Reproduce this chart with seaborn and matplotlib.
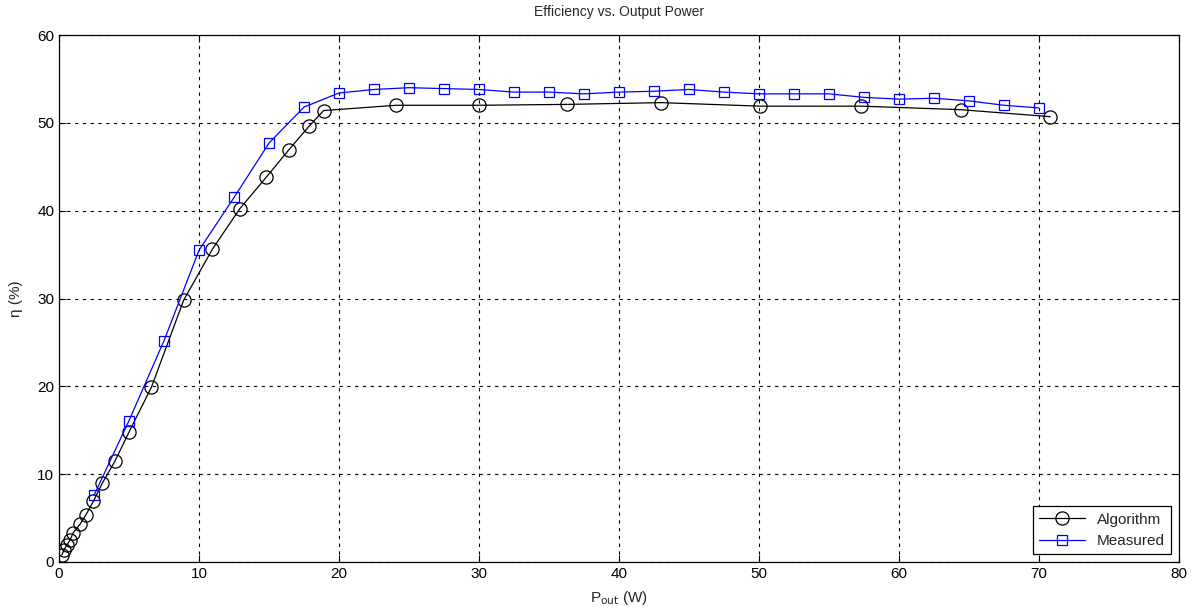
import matplotlib
matplotlib.use("Agg")
import matplotlib.pyplot as plt
import seaborn as sns
import pandas as pd

# data
algo_x = [0.2, 0.36, 0.55, 0.79, 1.0, 1.5, 1.93, 2.45, 3.1, 4.0, 5.0, 6.6, 8.9,
          10.95, 12.9, 14.8, 16.4, 17.85, 18.9, 24.1, 30.0, 36.3, 43.0, 50.1,
          57.3, 64.4, 70.8]
algo_y = [0.8, 1.4, 1.9, 2.5, 3.3, 4.3, 5.4, 6.9, 9.0, 11.5, 14.8, 19.9, 29.8,
          35.6, 40.2, 43.8, 46.9, 49.6, 51.4, 52.0, 52.0, 52.1, 52.3, 51.9,
          51.9, 51.5, 50.7]

meas_x = [2.5, 5, 7.5, 10, 12.5, 15, 17.5, 20, 22.5, 25, 27.5, 30, 32.5, 35,
          37.5, 40, 42.5, 45, 47.5, 50, 52.5, 55, 57.5, 60, 62.5, 65, 67.5, 70]
meas_y = [7.6, 16.1, 25.2, 35.5, 41.5, 47.7, 51.8, 53.4, 53.8, 54.0, 53.9,
          53.8, 53.5, 53.5, 53.3, 53.5, 53.6, 53.8, 53.5, 53.3, 53.3, 53.3,
          52.9, 52.7, 52.8, 52.5, 52.0, 51.7]

sns.set_style("white")
plt.rcParams['font.family'] = ['Liberation Sans', 'DejaVu Sans']

df_algo = pd.DataFrame({"x": algo_x, "y": algo_y})
df_meas = pd.DataFrame({"x": meas_x, "y": meas_y})

fig = plt.figure(figsize=(11.95, 6.12), dpi=100)
ax = fig.add_axes([0.0494, 0.0817, 0.9372, 0.8611])

sns.lineplot(data=df_algo, x="x", y="y", ax=ax, sort=False, color="black",
             marker="o", markersize=9.5, markerfacecolor="none",
             markeredgecolor="black", markeredgewidth=0.9, linewidth=0.9,
             label="Algorithm")
sns.lineplot(data=df_meas, x="x", y="y", ax=ax, sort=False, color="blue",
             marker="s", markersize=7.5, markerfacecolor="none",
             markeredgecolor="blue", markeredgewidth=0.9, linewidth=0.9,
             label="Measured")

ax.set_xlim(0, 80)
ax.set_ylim(0, 60)
ax.set_xticks(range(0, 81, 10))
ax.set_yticks(range(0, 61, 10))
ax.grid(True, color="black", linestyle=(0, (3, 4)), linewidth=0.8)
for s in ax.spines.values():
    s.set_color("black")
    s.set_linewidth(0.9)
ax.tick_params(direction="in", length=5, labelsize=11, colors="black",
               top=True, right=True, bottom=True, left=True)

ax.set_title("Efficiency vs. Output Power", fontsize=10, pad=14)
ax.set_xlabel(r"P$_{\mathrm{out}}$ (W)", fontsize=11, labelpad=6)
ax.set_ylabel("η (%)", fontsize=11, labelpad=10)

leg = ax.legend(loc="lower right", fontsize=11, fancybox=False, framealpha=1,
                edgecolor="black", handlelength=3)
leg.get_frame().set_linewidth(0.9)

fig.savefig("out.png", dpi=100, facecolor="white")
